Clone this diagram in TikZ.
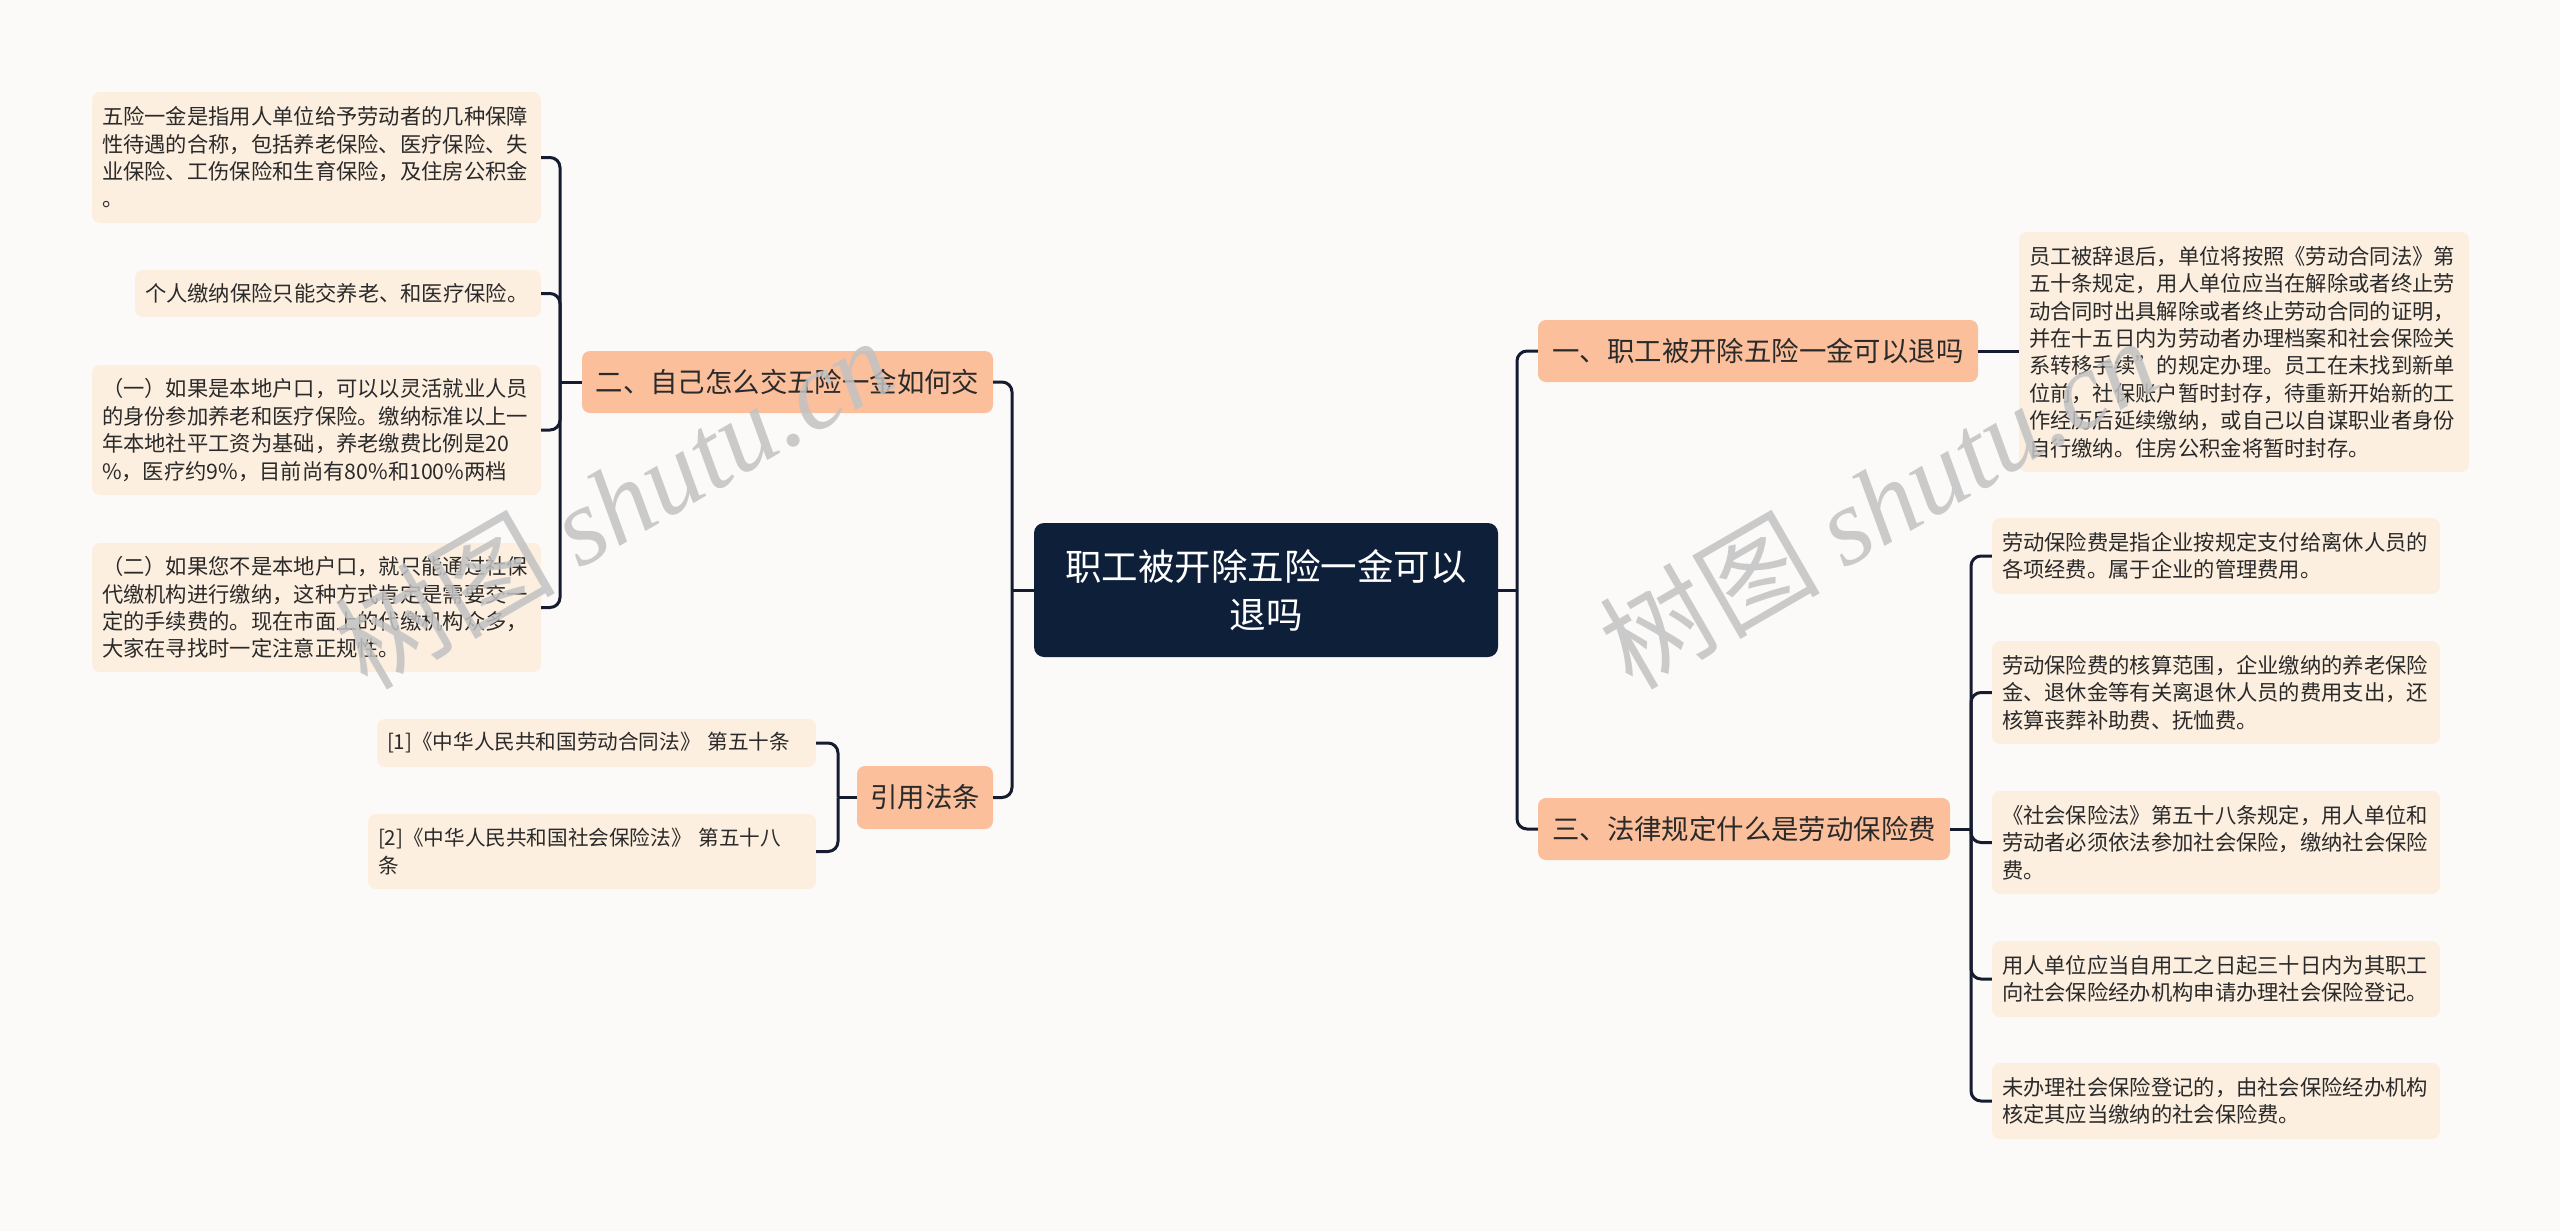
\documentclass[tikz,border=0pt]{standalone}
\usepackage{fontspec}
\setmainfont{Noto Sans CJK SC}
\newfontfamily\wmserif{Liberation Serif}
\definecolor{bgc}{HTML}{FCFAF8}
\definecolor{leafc}{HTML}{FDEFDF}
\definecolor{branchc}{HTML}{FBBF9C}
\definecolor{centerc}{HTML}{0E1F3A}
\definecolor{linec}{HTML}{151C30}
\definecolor{txtc}{HTML}{2A2A2A}
\definecolor{wmc}{HTML}{C2C2C2}
\tikzset{
  leaf/.style={fill=leafc, rounded corners=8pt, text=txtc, align=left,
    font=\fontsize{21.3}{27.4}\selectfont, inner xsep=10pt, inner ysep=0pt, anchor=center},
  cite/.style={leaf, font=\fontsize{20.6}{27.4}\selectfont},
  branch/.style={fill=branchc, rounded corners=8pt, text=txtc, align=center,
    font=\fontsize{27.4}{34}\selectfont, inner sep=0pt, minimum height=62pt, anchor=center},
  root/.style={fill=centerc, rounded corners=10pt, text=white, align=center,
    font=\fontsize{36.5}{48}\selectfont, inner sep=0pt, anchor=center},
  conn/.style={draw=linec, line width=3pt, rounded corners=10pt},
  wm/.style={text=wmc, text opacity=0.85, rotate=30, inner sep=0pt, anchor=center,
    font=\fontsize{110}{120}\selectfont}
}
\begin{document}
\begin{tikzpicture}[x=1pt,y=-1pt]
\fill[bgc] (0,0) rectangle (2560,1231);
\useasboundingbox (0,0) rectangle (2560,1231);

% root
\node[root, minimum width=464pt, minimum height=134pt, text width=444pt] (C) at (1266,590)
  {职工被开除五险一金可以\\退吗};

% branches
\node[branch, minimum width=440pt] (B1) at (1758,351) {一、职工被开除五险一金可以退吗};
\node[branch, minimum width=412pt] (B3) at (1744,829) {三、法律规定什么是劳动保险费};
\node[branch, minimum width=411pt] (B2) at (787.5,382) {二、自己怎么交五险一金如何交};
\node[branch, minimum width=136pt, minimum height=63pt] (B4) at (925,797.5) {引用法条};

% left leaves
\node[leaf, text width=429pt, minimum height=131pt] (L1) at (316.5,157.5)
  {五险一金是指用人单位给予劳动者的几种保障\\性待遇的合称，包括养老保险、医疗保险、失\\业保险、工伤保险和生育保险，及住房公积金\\。};
\node[leaf, text width=386pt, minimum height=47pt] (L2) at (338,293.5)
  {个人缴纳保险只能交养老、和医疗保险。};
\node[leaf, text width=429pt, minimum height=130pt] (L3) at (316.5,430)
  {（一）如果是本地户口，可以以灵活就业人员\\的身份参加养老和医疗保险。缴纳标准以上一\\年本地社平工资为基础，养老缴费比例是20\\\%，医疗约9\%，目前尚有80\%和100\%两档};
\node[leaf, text width=429pt, minimum height=129pt] (L4) at (316.5,607.5)
  {（二）如果您不是本地户口，就只能通过社保\\代缴机构进行缴纳，这种方式肯定是需要交一\\定的手续费的。现在市面上的代缴机构众多，\\大家在寻找时一定注意正规性。};

% citations
\node[cite, text width=419pt, minimum height=48pt] (Q1) at (596.5,743)
  {[1]《中华人民共和国劳动合同法》~第五十条};
\node[cite, text width=428pt, minimum height=75pt] (Q2) at (592,851.5)
  {[2]《中华人民共和国社会保险法》~第五十八\\条};

% right leaves
\node[leaf, text width=430pt, minimum height=240pt] (R0) at (2244,352)
  {员工被辞退后，单位将按照《劳动合同法》第\\五十条规定，用人单位应当在解除或者终止劳\\动合同时出具解除或者终止劳动合同的证明，\\并在十五日内为劳动者办理档案和社会保险关\\系转移手续”的规定办理。员工在未找到新单\\位前，社保账户暂时封存，待重新开始新的工\\作经历后延续缴纳，或自己以自谋职业者身份\\自行缴纳。住房公积金将暂时封存。};
\node[leaf, text width=428pt, minimum height=76pt] (R1) at (2216,556)
  {劳动保险费是指企业按规定支付给离休人员的\\各项经费。属于企业的管理费用。};
\node[leaf, text width=428pt, minimum height=103pt] (R2) at (2216,692.5)
  {劳动保险费的核算范围，企业缴纳的养老保险\\金、退休金等有关离退休人员的费用支出，还\\核算丧葬补助费、抚恤费。};
\node[leaf, text width=428pt, minimum height=103pt] (R3) at (2216,842.5)
  {《社会保险法》第五十八条规定，用人单位和\\劳动者必须依法参加社会保险，缴纳社会保险\\费。};
\node[leaf, text width=428pt, minimum height=76pt] (R4) at (2216,979)
  {用人单位应当自用工之日起三十日内为其职工\\向社会保险经办机构申请办理社会保险登记。};
\node[leaf, text width=428pt, minimum height=76pt] (R5) at (2216,1101)
  {未办理社会保险登记的，由社会保险经办机构\\核定其应当缴纳的社会保险费。};

% junctions
\coordinate (jr) at (1517,590);
\coordinate (jl) at (1012,590);
\coordinate (j2) at (560,382);
\coordinate (j4) at (838,797.5);
\coordinate (j3) at (1971,829);

% connectors
\draw[conn] (C.east) -- (jr);
\draw[conn] (B1.west) -| (jr);
\draw[conn] (B3.west) -| (jr);
\draw[conn] (C.west) -- (jl);
\draw[conn] (B2.east) -| (jl);
\draw[conn] (B4.east) -| (jl);

\draw[conn] (B2.west) -- (j2);
\draw[conn] (L1.east) -| (j2);
\draw[conn] (L2.east) -| (j2);
\draw[conn] (L3.east) -| (j2);
\draw[conn] (L4.east) -| (j2);

\draw[conn] (B4.west) -- (j4);
\draw[conn] (Q1.east) -| (j4);
\draw[conn] (Q2.east) -| (j4);

\draw[conn] (B1.east) -- (B1.east -| R0.west);

\draw[conn] (B3.east) -- (j3);
\draw[conn] (R1.west) -| (j3);
\draw[conn] (R2.west) -| (j3);
\draw[conn] (R3.west) -| (j3);
\draw[conn] (R4.west) -| (j3);
\draw[conn] (R5.west) -| (j3);

% watermarks
\node[wm] (W1) at (613,502) {树图 {\wmserif\itshape shutu.cn}};
\node[wm] (W2) at (1878,502) {树图 {\wmserif\itshape shutu.cn}};
\end{tikzpicture}
\end{document}
